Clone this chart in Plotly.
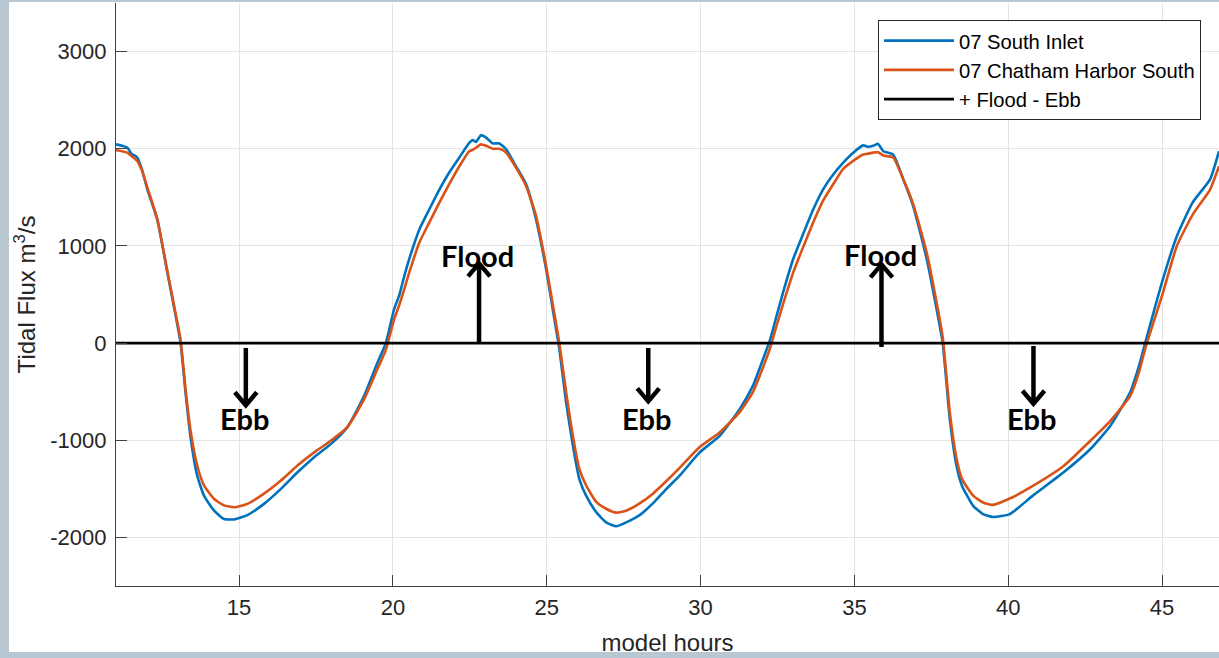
import plotly.graph_objects as go

# ---- data ----
hours = [11.0, 11.2, 11.37, 11.5, 11.69, 11.85, 12.02, 12.34, 12.67, 12.94, 13.1, 13.27, 13.43, 13.64,
         13.86, 14.19, 14.51, 14.84, 15.27, 15.81, 16.36, 16.9, 17.44, 17.98, 18.52, 19.07, 19.5, 19.77,
         20.04, 20.2, 20.37, 20.53, 20.86, 21.18, 21.51, 21.83, 22.16, 22.48, 22.6, 22.7, 22.86, 23.03,
         23.24, 23.46, 23.68, 24.0, 24.33, 24.65, 24.98, 25.25, 25.41, 25.63, 25.85, 26.06, 26.28, 26.61,
         26.93, 27.26, 27.58, 28.02, 28.45, 28.89, 29.32, 29.97, 30.62, 31.27, 31.7, 32.03, 32.25, 32.47,
         32.68, 33.01, 33.33, 33.66, 33.98, 34.31, 34.63, 34.96, 35.29, 35.45, 35.61, 35.77, 35.94, 36.26,
         36.59, 36.91, 37.35, 37.67, 37.87, 38.1, 38.32, 38.5, 38.86, 39.18, 39.5, 40.05, 40.8, 41.8,
         42.67, 43.32, 43.97, 44.25, 44.45, 45.03, 45.48, 46.0, 46.56, 46.85]

south_inlet = [2045, 2030, 2010, 1950, 1910, 1780, 1580, 1275, 725, 280, 0, -540, -985, -1365,
               -1570, -1725, -1810, -1815, -1770, -1655, -1500, -1330, -1175, -1040, -865, -540, -200, 0,
               350, 485, 690, 865, 1170, 1375, 1580, 1755, 1910, 2060, 2090, 2070, 2140, 2115,
               2055, 2055, 1995, 1820, 1635, 1275, 760, 245, -60, -610, -1055, -1400, -1570, -1740,
               -1845, -1885, -1845, -1770, -1650, -1500, -1365, -1125, -955, -680, -440, -165, 25, 280,
               520, 865, 1120, 1375, 1580, 1735, 1855, 1960, 2035, 2020, 2030, 2050, 1975, 1940,
               1685, 1410, 865, 350, 0, -780, -1265, -1470, -1675, -1760, -1790, -1760, -1570, -1330,
               -1090, -850, -500, -235, 0, 660, 1100, 1450, 1685, 1975]

chatham_south = [1985, 1975, 1960, 1925, 1875, 1770, 1600, 1275, 740, 300, 30, -505, -915, -1260,
                 -1465, -1605, -1670, -1690, -1655, -1550, -1415, -1260, -1125, -1005, -865, -575, -265, -70,
                 245, 385, 555, 725, 1035, 1240, 1445, 1635, 1820, 1975, 1990, 2010, 2045, 2030,
                 2000, 2000, 1960, 1805, 1615, 1310, 795, 300, 0, -505, -955, -1295, -1465, -1635,
                 -1705, -1745, -1725, -1650, -1550, -1420, -1285, -1070, -920, -710, -505, -250, -60, 180,
                 400, 725, 985, 1240, 1465, 1635, 1790, 1875, 1940, 1950, 1960, 1965, 1930, 1910,
                 1685, 1430, 930, 420, 60, -710, -1190, -1400, -1570, -1640, -1665, -1600, -1470, -1265,
                 -1005, -800, -540, -300, -60, 520, 1000, 1325, 1580, 1820]

zero_line_hours = [10.0, 50.0]
zero_line_values = [0, 0]

x_ticks = [15, 20, 25, 30, 35, 40, 45]
y_ticks = [-2000, -1000, 0, 1000, 2000, 3000]

# annotation arrows: (hour, tail value, tip value)
arrows = [(15.22, -50, -640), (28.3, -50, -600), (40.82, -30, -625),
          (22.8, 0, 820), (35.88, -40, 810)]
ebb_labels = [(15.18, -780), (28.27, -780), (40.78, -775)]
flood_labels = [(22.74, 900), (35.84, 915)]

# ---- figure ----
AX_COL = "#262626"
FONT = "Liberation Sans, Arial, sans-serif"
W, H = 1219, 658
L, R, T, B = 116, 0, 3, 72
pw, ph = W - L - R, H - T - B
XR = [11.0, 46.85]
YR = [-2500, 3500]
X_PER_PX = (XR[1] - XR[0]) / pw
Y_PER_PX = (YR[1] - YR[0]) / ph

fig = go.Figure()
fig.add_trace(go.Scatter(x=hours, y=south_inlet, mode="lines", name="07 South Inlet",
                         line=dict(color="#0072BD", width=2.6, shape="spline", smoothing=0.5)))
fig.add_trace(go.Scatter(x=hours, y=chatham_south, mode="lines", name="07 Chatham Harbor South",
                         line=dict(color="#D95319", width=2.6, shape="spline", smoothing=0.5)))
fig.add_trace(go.Scatter(x=zero_line_hours, y=zero_line_values, mode="lines", name="+ Flood - Ebb",
                         line=dict(color="#000000", width=2.6)))

annotations = []
for hx, yv in ebb_labels:
    annotations.append(dict(x=hx, y=yv, xref="x", yref="y", text="Ebb", showarrow=False,
                            font=dict(family="Lato, Open Sans, sans-serif", size=29, color="#000000",
                                      weight="bold")))
for hx, yv in flood_labels:
    annotations.append(dict(x=hx, y=yv, xref="x", yref="y", text="Flood", showarrow=False,
                            font=dict(family="Lato, Open Sans, sans-serif", size=29, color="#000000",
                                      weight="bold")))


def px_to_paper_x(px):
    return (px - L) / pw


def px_to_paper_y(py):
    return 1 - (py - T) / ph


shapes = [dict(type="rect", xref="paper", yref="paper", layer="below",
               x0=px_to_paper_x(9), x1=px_to_paper_x(1225),
               y0=px_to_paper_y(652), y1=px_to_paper_y(2),
               fillcolor="#ffffff", line=dict(width=0))]

# arrows drawn as shaft + open chevron
head_dx = 11 * X_PER_PX
head_dy = 13 * Y_PER_PX
for hx, y0, y1 in arrows:
    sgn = 1 if y1 > y0 else -1
    shapes.append(dict(type="line", xref="x", yref="y", x0=hx, x1=hx, y0=y0, y1=y1 - sgn * 2 * Y_PER_PX,
                       line=dict(color="#000000", width=4.5), layer="above"))
    path = (f"M {hx - head_dx},{y1 - sgn * head_dy} L {hx},{y1} L {hx + head_dx},{y1 - sgn * head_dy}")
    shapes.append(dict(type="path", xref="x", yref="y", path=path,
                       line=dict(color="#000000", width=4.5), layer="above"))

fig.update_layout(
    width=W, height=H,
    margin=dict(l=L, r=R, t=T, b=B, autoexpand=False),
    paper_bgcolor="#b8c7d2",
    plot_bgcolor="#ffffff",
    font=dict(family=FONT, color=AX_COL),
    showlegend=True,
    legend=dict(x=px_to_paper_x(878), y=px_to_paper_y(20), xanchor="left", yanchor="top",
                bgcolor="#ffffff", bordercolor="#262626", borderwidth=1,
                font=dict(family=FONT, size=20.2, color="#000000"),
                itemwidth=70, tracegroupgap=0),
    annotations=annotations,
    shapes=shapes,
    xaxis=dict(range=XR, tickvals=x_ticks, ticktext=[str(v) for v in x_ticks],
               showgrid=True, gridcolor="#e3e3e3", gridwidth=1, zeroline=False,
               showline=True, linecolor="#404040", linewidth=1.3,
               ticks="inside", ticklen=11, tickwidth=1.3, tickcolor="#404040",
               ticklabelstandoff=1,
               tickfont=dict(size=22, color=AX_COL, family=FONT),
               title=dict(text="model hours", font=dict(size=24, color=AX_COL, family=FONT), standoff=15),
               automargin=False, fixedrange=True),
    yaxis=dict(range=YR, tickvals=y_ticks, ticktext=[str(v) for v in y_ticks],
               showgrid=True, gridcolor="#e3e3e3", gridwidth=1, zeroline=False,
               showline=True, linecolor="#404040", linewidth=1.3,
               ticks="inside", ticklen=11, tickwidth=1.3, tickcolor="#404040",
               ticklabelstandoff=4,
               tickfont=dict(size=22, color=AX_COL, family=FONT),
               title=dict(text="Tidal Flux m<sup>3</sup>/s", font=dict(size=24, color=AX_COL, family=FONT),
                          standoff=7),
               automargin=False, fixedrange=True),
)

fig.write_html("out.html", config={"displayModeBar": False},
               post_script="document.body.style.margin='0px';document.body.style.overflow='hidden';")
